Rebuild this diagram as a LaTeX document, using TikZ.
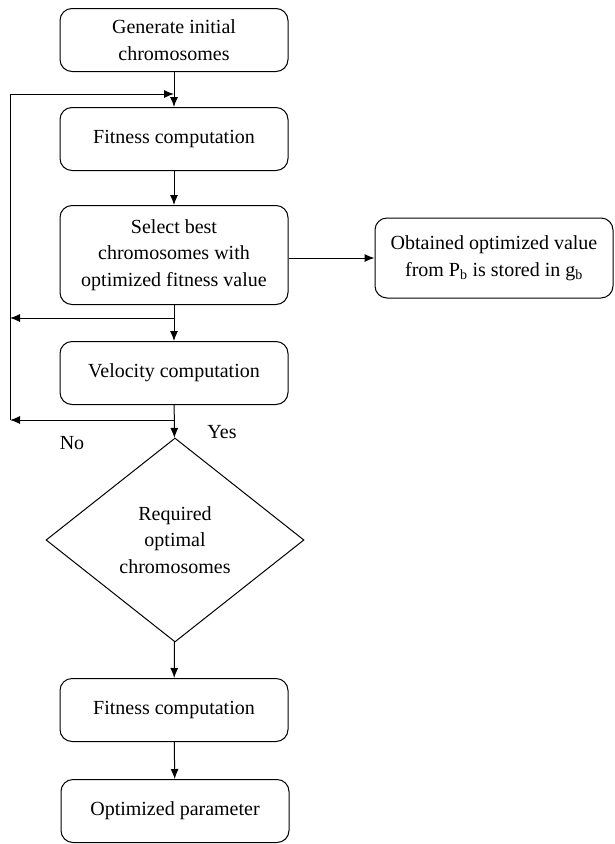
\documentclass[tikz,border=0pt]{standalone}
\usepackage{fontspec}
\setmainfont{Liberation Serif}
\usetikzlibrary{arrows.meta, positioning, shapes.geometric}

\begin{document}
\begin{tikzpicture}[
    x=1pt, y=-1pt,
    box/.style={
        rectangle,
        draw,
        rounded corners=12pt,
        align=center,
        minimum width=228pt,
        minimum height=63pt,
        line width=1pt,
        font=\fontsize{20}{26.5}\selectfont
    },
    decision/.style={
        diamond,
        draw,
        align=center,
        inner sep=0pt,
        minimum width=258pt,
        minimum height=204pt,
        line width=1pt,
        font=\fontsize{20}{26.5}\selectfont
    },
    lbl/.style={font=\fontsize{20}{26}\selectfont},
    arrow/.style={-{Latex[length=10pt, width=8pt]}, line width=1pt}
]
\useasboundingbox (0,0) rectangle (614,844);

% Main column
\node[box] (init) at (174,40) {Generate initial\\chromosomes};
\node[box] (fitness) at (174,139) {Fitness computation};
\node[box, minimum height=99pt] (select) at (174,255) {Select best\\chromosomes with\\optimized fitness value};
\node[box] (velocity) at (174,373) {Velocity computation};
\node[decision] (optimal) at (175,540) {Required\\optimal\\chromosomes};
\node[box] (fitnessend) at (174,710) {Fitness computation};
\node[box] (param) at (175,811) {Optimized parameter};

% Global best
\node[box, minimum width=238pt, minimum height=80pt] (gbest) at (494,258) {Obtained optimized value\\from P\textsubscript{b} is stored in g\textsubscript{b}};

% Loop points
\coordinate (looptop) at (10,94);
\coordinate (loopmid) at (10,318);
\coordinate (loopbot) at (10,420);

\draw[arrow] (init) -- (fitness);
\draw[arrow] (fitness) -- (select);
\draw[arrow] (select) -- (velocity);
\draw[arrow] (velocity) -- (optimal);
\draw[arrow] (optimal) -- (fitnessend);
\draw[arrow] (fitnessend) -- (param);
\draw[arrow] (select.east |- gbest) -- (gbest);

% Feedback
\draw[arrow] (select.south |- loopmid) -- (loopmid);
\draw[arrow] (velocity.south |- loopbot) -- (loopbot);
\draw[arrow] (loopbot) -- (looptop) -- (init.south |- looptop);

\node[lbl] (yes) at (222,432) {Yes};
\node[lbl] (no) at (72,443) {No};

\end{tikzpicture}
\end{document}
